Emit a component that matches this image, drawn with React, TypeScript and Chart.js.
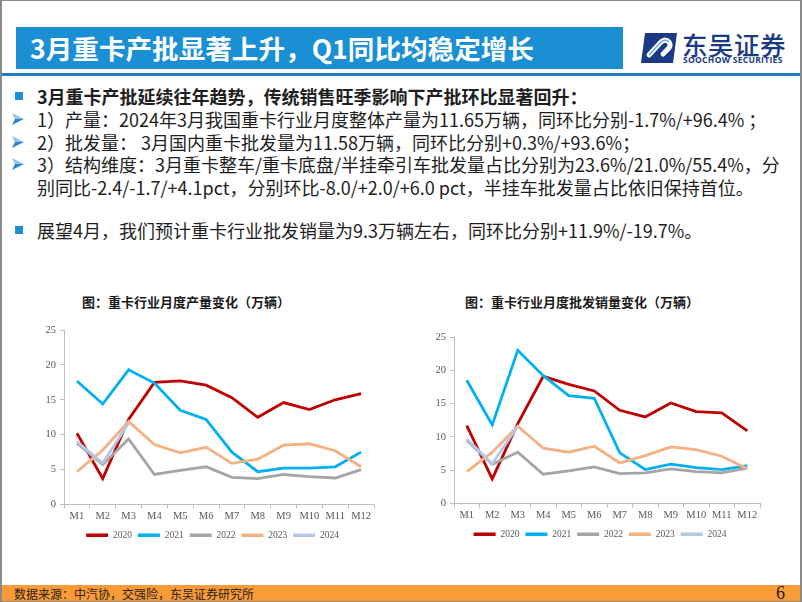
import React, { useEffect, useRef } from 'react';
import { Chart, registerables } from 'chart.js';

Chart.register(...registerables);

// ---------- data ----------
const months = ['M1', 'M2', 'M3', 'M4', 'M5', 'M6', 'M7', 'M8', 'M9', 'M10', 'M11', 'M12'];
const years = ['2020', '2021', '2022', '2023', '2024'];
const yearColors = ['#C00000', '#00B0F0', '#A5A5A5', '#F4B183', '#B4C7E7'];
const yTicks = [0, 5, 10, 15, 20, 25];

// 产量 (万辆)
const prod2020 = [10.2, 3.7, 12.2, 17.5, 17.7, 17.1, 15.3, 12.5, 14.6, 13.6, 15.0, 15.9];
const prod2021 = [17.7, 14.4, 19.3, 17.4, 13.5, 12.2, 7.5, 4.7, 5.2, 5.2, 5.4, 7.5];
const prod2022 = [8.8, 5.7, 9.4, 4.3, 4.9, 5.4, 3.9, 3.7, 4.3, 4.0, 3.8, 5.0];
const prod2023 = [4.7, 7.8, 11.9, 8.6, 7.4, 8.2, 5.9, 6.5, 8.5, 8.7, 7.7, 5.4];
const prod2024 = [9.0, 5.93, 11.65];

// 批发销量 (万辆)
const sales2020 = [11.7, 3.7, 12.0, 19.1, 17.9, 16.9, 14.0, 13.0, 15.1, 13.8, 13.6, 10.9];
const sales2021 = [18.5, 11.8, 23.0, 19.2, 16.2, 15.8, 7.6, 5.1, 5.9, 5.4, 5.1, 5.7];
const sales2022 = [9.5, 5.9, 7.7, 4.4, 4.9, 5.5, 4.5, 4.6, 5.2, 4.8, 4.6, 5.3];
const sales2023 = [4.8, 7.7, 11.6, 8.3, 7.7, 8.6, 6.1, 7.2, 8.5, 8.1, 7.1, 5.2];
const sales2024 = [9.7, 5.98, 11.58];

const prodSeries = [prod2020, prod2021, prod2022, prod2023, prod2024];
const salesSeries = [sales2020, sales2021, sales2022, sales2023, sales2024];

const title1 = '图：重卡行业月度产量变化（万辆）';
const title2 = '图：重卡行业月度批发销量变化（万辆）';

const headerTitle = '3月重卡产批显著上升，Q1同比均稳定增长';
const bodyLines = [
  { kind: 'square', bold: true, text: '3月重卡产批延续往年趋势，传统销售旺季影响下产批环比显著回升：' },
  { kind: 'arrow', bold: false, text: '1）产量：2024年3月我国重卡行业月度整体产量为11.65万辆，同环比分别-1.7%/+96.4% ；' },
  { kind: 'arrow', bold: false, text: '2）批发量： 3月国内重卡批发量为11.58万辆，同环比分别+0.3%/+93.6%；' },
  { kind: 'arrow', bold: false, text: '3）结构维度：3月重卡整车/重卡底盘/半挂牵引车批发量占比分别为23.6%/21.0%/55.4%，分' },
  { kind: 'none', bold: false, text: '别同比-2.4/-1.7/+4.1pct，分别环比-8.0/+2.0/+6.0 pct，半挂车批发量占比依旧保持首位。' },
  { kind: 'square', bold: false, text: '展望4月，我们预计重卡行业批发销量为9.3万辆左右，同环比分别+11.9%/-19.7%。' },
];
const bodyLineY = [95, 118, 141, 163, 186, 229];
const footerText = '数据来源：中汽协，交强险，东吴证券研究所';
const pageNo = '6';

const CJK = '"Noto Sans CJK SC", "Noto Sans", sans-serif';
const SERIF = '"Liberation Serif", "DejaVu Serif", serif';

type ChartBoxProps = {
  series: number[][];
  left: number;
  top: number;
  width: number;
  height: number;
  yWidth: number;
  rightGap: number;
  padTop: number;
};

function LineChartBox(props: ChartBoxProps) {
  const ref = useRef<HTMLCanvasElement>(null);
  useEffect(() => {
    if (!ref.current) return;
    const tickFont = { family: SERIF, size: 10.5 };
    const chart = new Chart(ref.current, {
      type: 'line',
      data: {
        labels: months,
        datasets: years.map((y, i) => ({
          label: y,
          data: props.series[i],
          borderColor: yearColors[i],
          backgroundColor: yearColors[i],
          borderWidth: 2.8,
          pointRadius: 0,
          pointHoverRadius: 0,
          tension: 0,
          fill: false,
          order: years.length - i,
        })),
      },
      options: {
        animation: false,
        responsive: false,
        maintainAspectRatio: false,
        layout: { padding: { top: props.padTop, right: 0, bottom: 0, left: 0 } },
        plugins: {
          legend: {
            display: true,
            position: 'bottom',
            labels: {
              boxWidth: 22,
              boxHeight: 3.5,
              padding: 6,
              color: '#595959',
              font: { family: SERIF, size: 9.5 },
              sort: (a: any, b: any) => a.datasetIndex - b.datasetIndex,
              generateLabels: (c: any) =>
                (Chart.defaults.plugins.legend.labels as any)
                  .generateLabels(c)
                  .map((l: any) => ({ ...l, lineWidth: 0 })),
            },
          },
          tooltip: { enabled: false },
          title: { display: false },
        },
        scales: {
          x: {
            type: 'category',
            offset: true,
            grid: {
              display: true,
              drawOnChartArea: false,
              drawTicks: true,
              tickLength: 4,
              offset: true,
              color: '#BFBFBF',
            },
            border: { display: true, color: '#BFBFBF', width: 1 },
            ticks: { color: '#595959', font: tickFont, padding: 1, maxRotation: 0, autoSkip: false },
            afterFit: (s: any) => {
              s.height = 20;
            },
          },
          y: {
            min: 0,
            max: 25,
            afterBuildTicks: (s: any) => {
              s.ticks = yTicks.map((v) => ({ value: v }));
            },
            grid: {
              display: true,
              drawOnChartArea: false,
              drawTicks: true,
              tickLength: 4,
              color: '#BFBFBF',
            },
            border: { display: true, color: '#BFBFBF', width: 1 },
            ticks: { color: '#595959', font: tickFont, padding: 4 },
            afterFit: (s: any) => {
              s.width = props.yWidth;
            },
          },
          yR: {
            position: 'right',
            display: true,
            min: 0,
            max: 25,
            grid: { display: false, drawOnChartArea: false },
            border: { display: false },
            ticks: { display: false },
            afterFit: (s: any) => {
              s.width = props.rightGap;
            },
          },
        },
      } as any,
    });
    return () => chart.destroy();
  }, []);
  return (
    <canvas
      ref={ref}
      width={props.width}
      height={props.height}
      style={{ position: 'absolute', left: props.left, top: props.top, width: props.width, height: props.height }}
    />
  );
}

function Bullet({ kind, y }: { kind: string; y: number }) {
  if (kind === 'square') {
    return <div style={{ position: 'absolute', left: 13, top: y - 4, width: 8, height: 8, background: '#1A8FD3' }} />;
  }
  if (kind === 'arrow') {
    return (
      <svg style={{ position: 'absolute', left: 10, top: y - 6 }} width={13} height={12} viewBox="0 0 13 12">
        <polygon points="0,0 12,6 3,6" fill="#8CC4EA" />
        <polygon points="3,6 12,6 0,12" fill="#2E86CF" />
      </svg>
    );
  }
  return null;
}

export default function App() {
  useEffect(() => {
    document.body.style.margin = '0';
  }, []);
  return (
    <div
      style={{
        position: 'fixed',
        left: 0,
        top: 0,
        width: 802,
        height: 602,
        overflow: 'hidden',
        background: '#FFFFFF',
        boxSizing: 'border-box',
        borderLeft: '2px solid #8A8A8A',
        borderRight: '2px solid #8A8A8A',
        borderTop: '1px solid #8A8A8A',
        borderBottom: '1px solid #8A8A8A',
        fontFamily: CJK,
      }}
    >
      {/* header bar */}
      <div
        style={{
          position: 'absolute',
          left: 14,
          top: 26,
          width: 607,
          height: 42,
          background: '#1A8FD3',
        }}
      />
      <div
        style={{
          position: 'absolute',
          left: 28,
          top: 27,
          height: 40,
          lineHeight: '40px',
          color: '#FFFFFF',
          fontWeight: 700,
          fontSize: 26.6,
          whiteSpace: 'nowrap',
          fontFamily: CJK,
        }}
      >
        {headerTitle}
      </div>
      <div style={{ position: 'absolute', left: 0, top: 72, width: 802, height: 3, background: '#1C7DC9' }} />

      {/* logo */}
      <svg style={{ position: 'absolute', left: 639, top: 32 }} width={36} height={30} viewBox="0 0 36 30">
        <path d="M4,0 L36,0 L32,30 L0,30 Z" fill="#1B3A86" />
        <path d="M8,22 L19,10 Q24,5 28,9 Q31,13 26,17 L22,21" stroke="#FFFFFF" strokeWidth={5} fill="none" strokeLinecap="round" />
        <path d="M8,22 L19,10 Q24,5 28,9" stroke="#5AA9E0" strokeWidth={1.2} fill="none" />
      </svg>
      <div
        style={{
          position: 'absolute',
          left: 680,
          top: 28,
          lineHeight: '30px',
          fontSize: 25.5,
          fontWeight: 500,
          color: '#1B3A86',
          fontFamily: CJK,
          whiteSpace: 'nowrap',
          letterSpacing: 0.5,
        }}
      >
        东吴证券
      </div>
      <div
        style={{
          position: 'absolute',
          left: 681,
          top: 54,
          lineHeight: '10px',
          fontSize: 8.5,
          fontWeight: 700,
          color: '#1B3A86',
          fontFamily: '"Open Sans", "DejaVu Sans", sans-serif',
          whiteSpace: 'nowrap',
          letterSpacing: 0.3,
        }}
      >
        SOOCHOW SECURITIES
      </div>

      {/* body text */}
      {bodyLines.map((l, i) => (
        <React.Fragment key={i}>
          <Bullet kind={l.kind} y={bodyLineY[i]} />
          <div
            style={{
              position: 'absolute',
              left: 35,
              top: bodyLineY[i] - 12,
              lineHeight: '24px',
              fontSize: 18,
              fontWeight: l.bold ? 700 : 400,
              color: '#1E1E1E',
              whiteSpace: 'nowrap',
              fontFamily: CJK,
            }}
          >
            {l.text}
          </div>
        </React.Fragment>
      ))}

      {/* chart titles */}
      <div
        style={{
          position: 'absolute',
          left: 184 - 120,
          width: 240,
          top: 293,
          lineHeight: '16px',
          textAlign: 'center',
          fontSize: 13,
          fontWeight: 700,
          color: '#1A1A1A',
          whiteSpace: 'nowrap',
          fontFamily: CJK,
        }}
      >
        {title1}
      </div>
      <div
        style={{
          position: 'absolute',
          left: 580 - 130,
          width: 260,
          top: 293,
          lineHeight: '16px',
          textAlign: 'center',
          fontSize: 13,
          fontWeight: 700,
          color: '#1A1A1A',
          whiteSpace: 'nowrap',
          fontFamily: CJK,
        }}
      >
        {title2}
      </div>

      <LineChartBox series={prodSeries} left={20} top={315} width={381} height={234} yWidth={42} rightGap={29} padTop={14} />
      <LineChartBox series={salesSeries} left={410} top={322} width={376} height={226} yWidth={42} rightGap={28} padTop={14} />

      {/* footer */}
      <div style={{ position: 'absolute', left: 0, top: 584, width: 802, height: 17, background: '#F99B37' }} />
      <div
        style={{
          position: 'absolute',
          left: 12,
          top: 584,
          lineHeight: '17px',
          fontSize: 12,
          color: '#2B2118',
          whiteSpace: 'nowrap',
          fontFamily: CJK,
        }}
      >
        {footerText}
      </div>
      <div
        style={{
          position: 'absolute',
          left: 774,
          top: 582,
          lineHeight: '20px',
          fontSize: 18,
          color: '#2B2118',
          fontFamily: SERIF,
        }}
      >
        {pageNo}
      </div>
    </div>
  );
}
